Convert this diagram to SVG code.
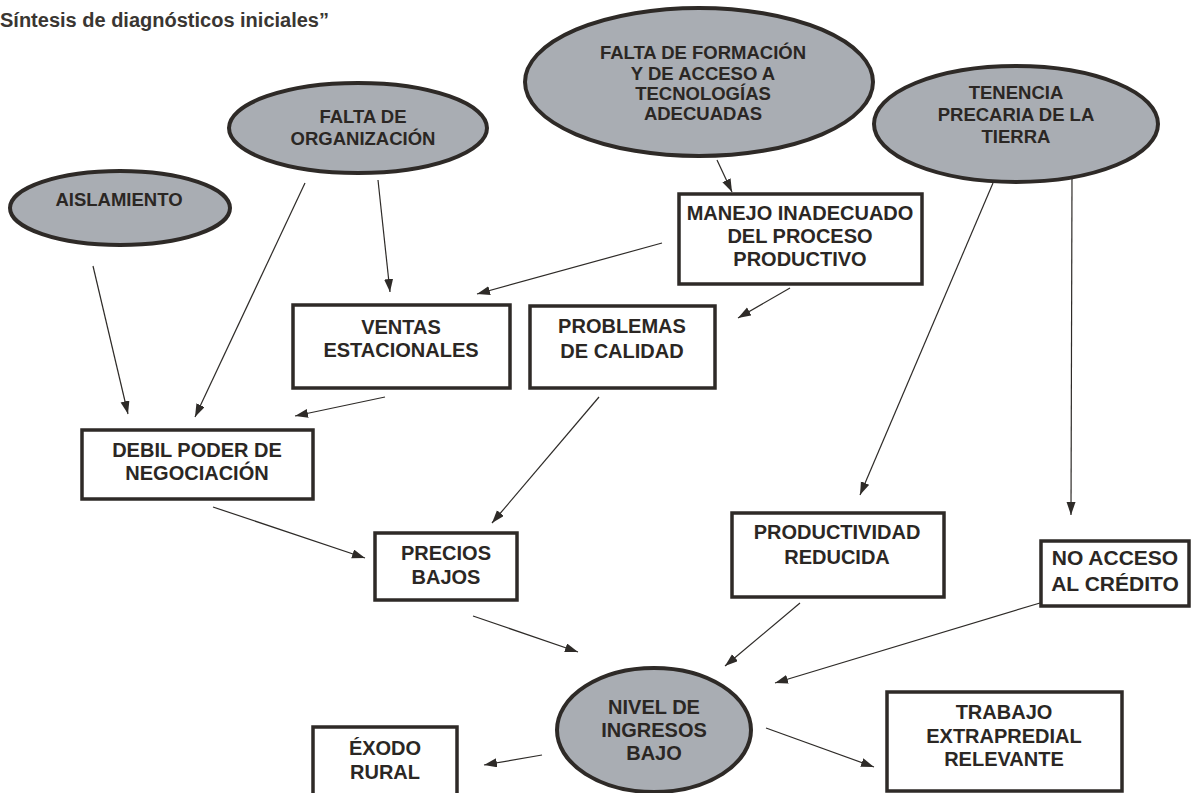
<svg xmlns="http://www.w3.org/2000/svg" width="1192" height="793" viewBox="0 0 1192 793">
<defs>
<style>
.t{font-family:"Liberation Sans",Arial,sans-serif;font-weight:bold;fill:#2b2724;text-anchor:middle}
.e{font-size:18.5px}
.b{font-size:20px}
.ell{fill:#a9adb3;stroke:#2e2a27;stroke-width:4}
.box{fill:#ffffff;stroke:#2e2a27;stroke-width:3.5}
.c line{stroke:#2e2b28;stroke-width:1.2;marker-end:url(#ah)}
</style>
<marker id="ah" markerUnits="userSpaceOnUse" markerWidth="14" markerHeight="10" refX="13" refY="4.5" orient="auto">
<path d="M0,0 L13,4.5 L0,9 z" fill="#2e2b28"/>
</marker>
</defs>
<rect width="1192" height="793" fill="#ffffff"/>
<text x="0" y="27" font-family="Liberation Sans, Arial, sans-serif" font-weight="bold" font-size="20" fill="#3a3632">Síntesis de diagnósticos iniciales”</text>

<g class="c">
<line x1="93" y1="266" x2="128" y2="414"/>
<line x1="305" y1="183" x2="195" y2="417"/>
<line x1="378" y1="180" x2="390" y2="292"/>
<line x1="662" y1="243" x2="477" y2="294"/>
<line x1="790" y1="288" x2="738" y2="318"/>
<line x1="385" y1="397" x2="295" y2="416"/>
<line x1="599" y1="397" x2="492" y2="523"/>
<line x1="213" y1="507" x2="365" y2="558"/>
<line x1="993" y1="183" x2="860" y2="495"/>
<line x1="1072" y1="178" x2="1071" y2="515"/>
<line x1="717" y1="160" x2="732" y2="192"/>
<line x1="473" y1="616" x2="578" y2="652"/>
<line x1="800" y1="603" x2="725" y2="666"/>
<line x1="1040" y1="603" x2="775" y2="683"/>
<line x1="542" y1="755" x2="484" y2="765"/>
<line x1="766" y1="728" x2="874" y2="767"/>
</g>

<g id="aislamiento">
<ellipse class="ell" cx="120" cy="208" rx="110" ry="37" stroke-width="5"/>
<text class="t e" x="119" y="206">AISLAMIENTO</text>
</g>
<g id="falta-organizacion">
<ellipse class="ell" cx="358" cy="128" rx="129" ry="45"/>
<text class="t e" x="363" y="123">FALTA DE</text>
<text class="t e" x="363" y="145">ORGANIZACIÓN</text>
</g>
<g id="falta-formacion">
<ellipse class="ell" cx="699" cy="82" rx="174" ry="74"/>
<text class="t e" x="703" y="59">FALTA DE FORMACIÓN</text>
<text class="t e" x="703" y="80">Y DE ACCESO A</text>
<text class="t e" x="703" y="100">TECNOLOGÍAS</text>
<text class="t e" x="703" y="120">ADECUADAS</text>
</g>
<g id="tenencia">
<ellipse class="ell" cx="1016" cy="124" rx="142" ry="58"/>
<text class="t e" x="1016" y="99">TENENCIA</text>
<text class="t e" x="1016" y="121">PRECARIA DE LA</text>
<text class="t e" x="1016" y="143">TIERRA</text>
</g>
<g id="manejo">
<rect class="box" x="679" y="194" width="243" height="90"/>
<text class="t b" x="800" y="220">MANEJO INADECUADO</text>
<text class="t b" x="800" y="243">DEL PROCESO</text>
<text class="t b" x="800" y="266">PRODUCTIVO</text>
</g>
<g id="ventas">
<rect class="box" x="293" y="305" width="217" height="83"/>
<text class="t b" x="401" y="334">VENTAS</text>
<text class="t b" x="401" y="357">ESTACIONALES</text>
</g>
<g id="problemas">
<rect class="box" x="530" y="306" width="185" height="82"/>
<text class="t b" x="622" y="333">PROBLEMAS</text>
<text class="t b" x="622" y="358">DE CALIDAD</text>
</g>
<g id="debil">
<rect class="box" x="82" y="430" width="231" height="69"/>
<text class="t b" x="197" y="457">DEBIL PODER DE</text>
<text class="t b" x="197" y="480">NEGOCIACIÓN</text>
</g>
<g id="precios">
<rect class="box" x="375" y="533" width="142" height="67"/>
<text class="t b" x="446" y="560">PRECIOS</text>
<text class="t b" x="446" y="584">BAJOS</text>
</g>
<g id="productividad">
<rect class="box" x="732" y="513" width="212" height="84"/>
<text class="t b" x="837" y="539">PRODUCTIVIDAD</text>
<text class="t b" x="837" y="564">REDUCIDA</text>
</g>
<g id="no-acceso">
<rect class="box" x="1041" y="541" width="148" height="65"/>
<text class="t" font-size="21" x="1115" y="565">NO ACCESO</text>
<text class="t" font-size="21" x="1115" y="591">AL CRÉDITO</text>
</g>
<g id="nivel">
<ellipse class="ell" cx="654" cy="730" rx="97" ry="62"/>
<text class="t b" x="654" y="714">NIVEL DE</text>
<text class="t b" x="654" y="737">INGRESOS</text>
<text class="t b" x="654" y="760">BAJO</text>
</g>
<g id="exodo">
<rect class="box" x="313" y="727" width="144" height="75"/>
<text class="t b" x="385" y="755">ÉXODO</text>
<text class="t b" x="385" y="779">RURAL</text>
</g>
<g id="trabajo">
<rect class="box" x="887" y="692" width="235" height="99"/>
<text class="t b" x="1004" y="719">TRABAJO</text>
<text class="t b" x="1004" y="743">EXTRAPREDIAL</text>
<text class="t b" x="1004" y="766">RELEVANTE</text>
</g>
</svg>
